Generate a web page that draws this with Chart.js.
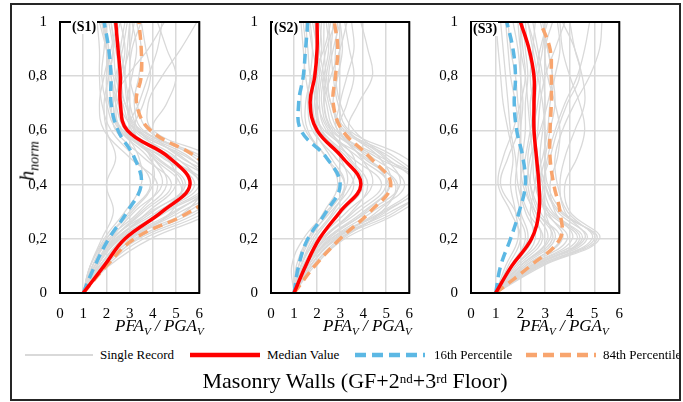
<!DOCTYPE html>
<html>
<head>
<meta charset="utf-8">
<script src="https://cdn.jsdelivr.net/npm/chart.js@4/dist/chart.umd.min.js"></script>
<style>
  body { margin: 0; background: #fff; }
  #wrap { position: relative; width: 683px; height: 402px; overflow: hidden; font-family: "Liberation Serif", "Times New Roman", serif; color: #000; }
  #frame { position: absolute; left: 10px; top: 3px; width: 671px; height: 398px; border: 2px solid #262626; box-sizing: border-box; }
  canvas { position: absolute; top: 0; }
  .tag { position: absolute; font-weight: bold; font-size: 14px; background: #fff; padding: 0 1px; line-height: 14px; }
  .xtitle { position: absolute; top: 317px; font-style: italic; font-size: 17px; white-space: nowrap; line-height: 17px; }
  .xtitle span { font-size: 11px; position: relative; top: 4px; }
  #ytitle { position: absolute; left: 28px; top: 161px; transform: translate(-50%, -50%) rotate(-90deg); font-style: italic; font-size: 20px; white-space: nowrap; line-height: 20px; }
  #ytitle span { font-size: 14px; position: relative; top: 5px; }
  .leg { position: absolute; top: 347px; font-size: 13px; line-height: 16px; white-space: nowrap; }
  .leg svg { position: absolute; top: 4px; }
  #title { position: absolute; left: 0; width: 710px; top: 369px; text-align: center; font-size: 22px; line-height: 24px; }
  #title sup { font-size: 13px; position: relative; top: -2px; vertical-align: top; }
</style>
</head>
<body>
<div id="wrap">
  <canvas id="s1" width="215" height="340" style="left:0px"></canvas>
  <canvas id="s2" width="210" height="340" style="left:215px"></canvas>
  <canvas id="s3" width="210" height="340" style="left:425px"></canvas>

  <div class="tag" style="left:71px; top:20px">(S1)</div>
  <div class="tag" style="left:273px; top:21px">(S2)</div>
  <div class="tag" style="left:472px; top:22px">(S3)</div>

  <div id="ytitle">h<span>norm</span></div>
  <div class="xtitle" style="left:115px">PFA<span>V</span> / PGA<span>V</span></div>
  <div class="xtitle" style="left:323px">PFA<span>V</span> / PGA<span>V</span></div>
  <div class="xtitle" style="left:520px">PFA<span>V</span> / PGA<span>V</span></div>

  <div class="leg" style="left:25px">
    <svg width="70" height="8"><line x1="0" y1="4" x2="68" y2="4" stroke="#d9d9d9" stroke-width="2"/></svg>
    <span style="margin-left:75px">Single Record</span>
  </div>
  <div class="leg" style="left:190px">
    <svg width="72" height="8"><line x1="0" y1="4" x2="70" y2="4" stroke="#ff0000" stroke-width="4.5"/></svg>
    <span style="margin-left:77px">Median Value</span>
  </div>
  <div class="leg" style="left:355px">
    <svg width="72" height="8"><line x1="0" y1="4" x2="70" y2="4" stroke="#5cb8e4" stroke-width="4.5" stroke-dasharray="11 6"/></svg>
    <span style="margin-left:79px">16th Percentile</span>
  </div>
  <div class="leg" style="left:526px">
    <svg width="72" height="8"><line x1="0" y1="4" x2="70" y2="4" stroke="#f8a56e" stroke-width="4.5" stroke-dasharray="11 6"/></svg>
    <span style="margin-left:77px">84th Percentile</span>
  </div>

  <div id="title">Masonry Walls (GF+2<sup>nd</sup>+3<sup>rd</sup> Floor)</div>
  <div id="frame"></div>
</div>

<script>
// normalised heights shared by every profile
const H_LEVELS = [0, 0.1, 0.2, 0.3, 0.4, 0.5, 0.6, 0.7, 0.8, 0.9, 1];
const X_TICK_LABELS = ['0', '1', '2', '3', '4', '5', '6'];
const Y_TICK_LABELS = ['0', '0,2', '0,4', '0,6', '0,8', '1'];

// PFA/PGA values per height, S1
const S1_MEDIAN = [1, 1.9, 2.8, 4.4, 5.6, 4.7, 2.9, 2.6, 2.6, 2.5, 2.4];
const S1_P16 = [1, 1.5, 2.1, 2.9, 3.5, 3.2, 2.5, 2.2, 2.2, 2.1, 1.9];
const S1_P84 = [1, 2.0, 3.2, 5.6, 7.0, 5.9, 3.9, 3.3, 3.5, 3.5, 3.4];
const S1_RECORDS = [
  [1, 1.5, 2.3, 3.6, 4.8, 3.6, 2.4, 2.2, 2.1, 2.0, 1.9],
  [1, 1.6, 2.6, 4.5, 6.2, 4.6, 2.9, 2.6, 2.5, 2.5, 2.4],
  [1, 1.4, 2.0, 3.0, 3.9, 3.2, 2.2, 1.8, 1.7, 1.7, 1.6],
  [1, 1.8, 3.0, 5.2, 7.0, 5.5, 3.3, 2.9, 2.8, 2.9, 3.0],
  [1, 1.7, 2.8, 4.9, 6.5, 4.9, 2.7, 2.4, 2.6, 2.8, 2.6],
  [1, 2.0, 3.6, 6.3, 7.5, 6.2, 3.6, 3.2, 3.4, 3.5, 3.3],
  [1, 1.3, 1.8, 2.3, 2.0, 2.4, 2.0, 1.9, 2.1, 2.3, 2.2],
  [1, 1.6, 2.4, 4.0, 5.4, 4.2, 3.0, 3.4, 3.8, 4.2, 4.4],
  [1, 1.9, 3.4, 6.0, 7.2, 5.2, 4.0, 4.6, 5.0, 4.6, 4.2],
  [1, 1.5, 2.2, 3.2, 4.4, 3.8, 2.6, 2.3, 2.4, 2.7, 2.9],
  [1, 1.7, 2.9, 5.5, 6.8, 5.8, 3.8, 3.3, 3.0, 3.1, 3.5],
  [1, 1.4, 2.1, 3.4, 4.2, 3.0, 1.9, 1.7, 1.9, 2.1, 1.8],
  [1, 2.1, 3.9, 6.6, 7.8, 6.6, 4.0, 3.8, 4.4, 5.2, 5.9],
  [1, 1.6, 2.5, 3.8, 5.0, 4.6, 3.4, 3.0, 2.8, 2.6, 2.3],
  [1, 1.5, 2.4, 4.2, 5.8, 4.4, 2.6, 2.1, 2.0, 2.2, 2.5],
  [1, 1.8, 3.1, 4.8, 5.2, 4.0, 3.1, 2.7, 2.4, 2.3, 2.1],
  [1, 1.3, 1.9, 2.8, 3.5, 3.4, 2.8, 2.5, 2.3, 2.0, 1.7],
  [1, 1.7, 2.7, 4.4, 6.0, 5.0, 3.2, 2.9, 3.1, 3.3, 3.1],
  [1, 1.4, 2.2, 3.9, 5.6, 4.8, 3.0, 2.6, 2.7, 3.0, 3.2],
  [1, 1.6, 2.6, 4.6, 6.4, 5.6, 3.4, 2.8, 2.6, 2.4, 2.2],
  [1, 1.5, 2.3, 3.5, 4.6, 4.0, 2.8, 2.4, 2.2, 2.3, 2.6],
  [1, 1.8, 3.2, 5.8, 7.4, 6.0, 3.5, 2.8, 2.5, 2.6, 2.8],
  [1, 1.3, 2.0, 3.1, 4.0, 3.9, 3.2, 3.6, 3.9, 3.7, 3.5],
  [1, 1.7, 2.9, 5.0, 6.3, 5.3, 3.3, 2.5, 2.2, 2.0, 1.8],
  [1, 1.5, 2.5, 4.3, 5.3, 4.1, 2.7, 2.3, 2.9, 3.8, 4.5],
  [1, 1.9, 3.3, 5.4, 6.1, 4.5, 2.5, 2.0, 1.8, 1.9, 2.0]
];

// S2
const S2_MEDIAN = [1, 1.5, 2.1, 3.0, 3.9, 3.1, 2.0, 1.7, 1.9, 2.0, 2.0];
const S2_P16 = [1, 1.2, 1.6, 2.4, 3.0, 2.4, 1.3, 1.2, 1.4, 1.5, 1.6];
const S2_P84 = [1, 1.9, 3.0, 4.3, 5.2, 4.3, 3.1, 2.7, 2.8, 2.9, 2.75];
const S2_RECORDS = [
  [1, 1.3, 1.9, 2.8, 3.6, 2.8, 1.8, 1.6, 1.7, 1.8, 1.7],
  [1, 1.5, 2.3, 3.6, 4.8, 3.5, 2.2, 1.9, 2.0, 2.2, 2.1],
  [1, 1.6, 2.6, 4.4, 5.8, 4.4, 2.6, 2.2, 2.3, 2.5, 2.4],
  [1, 1.2, 1.6, 2.3, 2.9, 2.4, 1.5, 1.3, 1.4, 1.5, 1.4],
  [1, 1.8, 3.0, 5.0, 6.4, 5.2, 3.1, 2.7, 2.9, 3.1, 3.0],
  [1, 0.9, 1.4, 2.4, 3.3, 3.0, 2.2, 2.0, 2.1, 2.0, 1.8],
  [1, 1.4, 2.1, 3.3, 4.4, 3.9, 2.9, 2.5, 2.3, 2.1, 2.0],
  [1, 1.7, 2.8, 4.6, 5.5, 4.0, 3.0, 3.3, 3.6, 3.4, 3.2],
  [1, 1.5, 2.4, 4.0, 5.2, 4.7, 3.4, 3.8, 4.4, 4.2, 3.9],
  [1, 1.9, 3.2, 5.6, 7.0, 5.8, 3.4, 2.9, 2.7, 2.6, 2.5],
  [1, 1.3, 1.8, 2.7, 3.2, 2.4, 1.6, 1.5, 1.8, 2.3, 2.6],
  [1, 1.6, 2.5, 4.1, 5.1, 3.8, 2.4, 2.1, 2.2, 2.4, 2.8],
  [1, 1.4, 2.2, 3.5, 4.2, 3.4, 2.6, 2.3, 2.6, 3.0, 3.3],
  [1, 1.7, 2.9, 5.4, 6.6, 4.6, 2.8, 2.4, 2.2, 2.0, 1.9],
  [1, 1.2, 1.7, 2.5, 3.2, 2.6, 1.9, 1.7, 1.5, 1.4, 1.3],
  [1, 1.5, 2.6, 4.8, 6.2, 5.0, 3.6, 3.0, 2.8, 2.8, 2.9],
  [1, 1.4, 2.2, 3.8, 5.0, 4.2, 2.7, 2.3, 2.4, 2.6, 2.7],
  [1, 1.6, 2.7, 4.9, 6.5, 5.4, 3.2, 2.6, 2.4, 2.3, 2.3],
  [1, 1.3, 2.0, 3.1, 4.0, 3.3, 2.1, 1.8, 1.9, 2.1, 2.2],
  [1, 1.7, 2.8, 5.2, 6.8, 4.8, 2.9, 3.0, 3.3, 3.6, 3.5],
  [1, 1.1, 1.6, 2.6, 3.5, 3.6, 2.5, 2.0, 1.7, 1.6, 1.5],
  [1, 1.5, 2.4, 4.2, 5.6, 4.9, 3.3, 2.6, 2.5, 2.7, 3.0],
  [1, 1.8, 3.1, 4.8, 5.4, 4.1, 2.3, 1.9, 2.0, 1.8, 1.6]
];

// S3
const S3_MEDIAN = [1, 1.65, 2.45, 2.75, 2.75, 2.65, 2.55, 2.55, 2.55, 2.35, 2.0];
const S3_P16 = [1, 1.2, 1.6, 1.95, 2.2, 2.1, 1.85, 1.75, 1.8, 1.7, 1.45];
const S3_P84 = [1, 2.4, 3.6, 3.6, 3.35, 3.2, 3.2, 3.25, 3.25, 3.2, 2.8];
const S3_RECORDS = [
  [1, 2.6, 4.4, 3.2, 2.6, 2.5, 2.4, 2.3, 2.2, 2.0, 1.9],
  [1, 2.8, 5.1, 3.6, 3.0, 2.8, 2.9, 3.0, 2.9, 2.7, 2.5],
  [1, 2.2, 3.6, 2.6, 2.1, 2.0, 2.0, 2.1, 2.0, 1.9, 1.7],
  [1, 1.6, 2.2, 1.8, 1.2, 1.5, 1.9, 1.8, 1.6, 1.5, 1.4],
  [1, 2.5, 4.6, 3.8, 3.6, 3.8, 4.2, 4.6, 4.5, 4.2, 4.0],
  [1, 2.0, 3.2, 3.0, 2.8, 3.0, 3.2, 3.4, 3.3, 3.1, 2.9],
  [1, 1.8, 2.6, 2.2, 1.9, 1.8, 1.6, 1.5, 1.4, 1.3, 1.2],
  [1, 2.7, 4.9, 3.9, 3.5, 3.4, 3.7, 4.2, 4.8, 5.2, 5.3],
  [1, 1.7, 2.5, 2.4, 2.6, 2.7, 2.5, 2.4, 2.6, 2.8, 3.1],
  [1, 1.5, 2.0, 1.6, 1.1, 1.3, 1.7, 2.0, 2.2, 2.1, 2.0],
  [1, 2.4, 4.1, 3.4, 3.2, 3.5, 3.6, 3.4, 3.1, 3.0, 3.3],
  [1, 2.1, 3.4, 2.8, 2.4, 2.3, 2.5, 2.7, 2.8, 2.6, 2.3],
  [1, 2.9, 5.2, 4.0, 3.8, 4.3, 4.6, 4.4, 4.0, 3.7, 3.6],
  [1, 1.9, 2.9, 2.3, 2.0, 2.2, 2.4, 2.6, 2.5, 2.3, 2.2],
  [1, 1.4, 1.9, 1.8, 1.6, 1.7, 1.5, 1.3, 1.2, 1.1, 1.0],
  [1, 2.3, 3.9, 3.0, 2.7, 2.6, 2.7, 2.8, 3.0, 3.4, 3.8],
  [1, 2.6, 4.7, 3.5, 3.0, 3.1, 3.4, 3.8, 4.3, 4.6, 4.8],
  [1, 2.0, 3.3, 2.7, 2.4, 2.5, 2.6, 2.5, 2.4, 2.5, 2.6],
  [1, 2.4, 4.3, 3.1, 2.6, 2.9, 3.1, 3.2, 3.4, 3.6, 3.5],
  [1, 1.8, 2.8, 2.5, 2.2, 2.1, 2.2, 2.2, 2.3, 2.2, 2.1],
  [1, 2.5, 4.5, 3.3, 2.9, 2.7, 2.6, 2.6, 2.7, 2.9, 3.0],
  [1, 2.2, 3.7, 3.1, 2.9, 3.2, 3.5, 3.9, 4.4, 4.2, 3.7],
  [1, 1.6, 2.3, 2.0, 1.8, 1.9, 2.0, 1.9, 1.8, 1.6, 1.5],
  [1, 2.7, 5.0, 3.7, 3.1, 3.0, 3.0, 2.9, 2.7, 2.5, 2.3],
  [1, 2.0, 3.1, 2.6, 2.3, 2.4, 2.8, 3.1, 3.3, 3.1, 2.8]
];

const RED = '#ff0000';
const BLUE = '#5cb8e4';
const ORANGE = '#f8a56e';
const GREY = '#d9d9d9';
const GRID = '#d9d9d9';
const TICK_FONT = { family: "'Liberation Serif', 'Times New Roman', serif", size: 15 };

// black box round the plot area
const plotBox = {
  id: 'plotBox',
  afterDraw(chart) {
    const a = chart.chartArea;
    const ctx = chart.ctx;
    ctx.save();
    ctx.strokeStyle = '#000';
    ctx.lineWidth = 2;
    ctx.strokeRect(a.left, a.top, a.right - a.left, a.bottom - a.top);
    ctx.restore();
  }
};

function profile(xs) {
  return xs.map((x, i) => ({ x: x, y: H_LEVELS[i] }));
}

function makePanel(id, records, median, p16, p84, yWidth, padTop, padRight) {
  const datasets = [
    { data: profile(median), borderColor: RED, borderWidth: 3.5, order: 0 },
    { data: profile(p84), borderColor: ORANGE, borderWidth: 3.5, borderDash: [10, 6], order: 1 },
    { data: profile(p16), borderColor: BLUE, borderWidth: 3.5, borderDash: [10, 6], order: 1 }
  ];
  records.forEach(r => {
    datasets.push({ data: profile(r), borderColor: GREY, borderWidth: 1.3, order: 2 });
  });
  datasets.forEach(d => { d.showLine = true; });

  return new Chart(document.getElementById(id), {
    type: 'scatter',
    data: { datasets: datasets },
    options: {
      responsive: false,
      animation: false,
      elements: {
        point: { radius: 0, hoverRadius: 0 },
        line: { tension: 0.4, fill: false }
      },
      layout: { padding: { top: padTop, right: padRight, left: 0, bottom: 0 } },
      plugins: { legend: { display: false }, tooltip: { enabled: false } },
      scales: {
        x: {
          type: 'linear', min: 0, max: 6,
          ticks: { stepSize: 1, padding: 12, color: '#000', font: TICK_FONT,
                   callback: (v, i) => X_TICK_LABELS[i] },
          grid: { color: GRID, lineWidth: 1.5, drawTicks: false },
          border: { display: false },
          afterFit: s => { s.height = 47; }
        },
        y: {
          type: 'linear', min: 0, max: 1,
          ticks: { stepSize: 0.2, padding: 13, color: '#000', font: TICK_FONT,
                   callback: (v, i) => Y_TICK_LABELS[i] },
          grid: { color: GRID, lineWidth: 1.5, drawTicks: false },
          border: { display: false },
          afterFit: s => { s.width = yWidth; }
        }
      }
    },
    plugins: [plotBox]
  });
}

makePanel('s1', S1_RECORDS, S1_MEDIAN, S1_P16, S1_P84, 60, 12, 5);
makePanel('s2', S2_RECORDS, S2_MEDIAN, S2_P16, S2_P84, 56, 13, 7);
makePanel('s3', S3_RECORDS, S3_MEDIAN, S3_P16, S3_P84, 46, 15, 10);
</script>
</body>
</html>
